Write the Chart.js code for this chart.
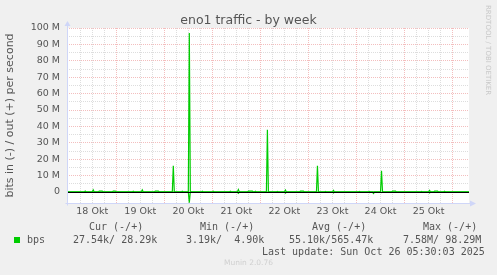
<!DOCTYPE html>
<html>
<head>
<meta charset="utf-8">
<script src="https://cdn.jsdelivr.net/npm/chart.js@4/dist/chart.umd.min.js"></script>
<style>
    body { margin: 0; background: #f0f0f0; }
    #wrap { position: relative; width: 497px; height: 275px; overflow: hidden; }
    #grafico { position: absolute; left: 0; top: 0; }
    .txt { position: absolute; white-space: pre; color: #555; }
    .mono { font: 10px/12px 'DejaVu Sans Mono', monospace; }
    #titulo { left: 0; top: 12px; width: 497px; text-align: center; font: 12.5px/15px 'DejaVu Sans', sans-serif; }
    #rrd { left: 484px; top: 5px; font: 7px/8px 'DejaVu Sans', sans-serif; color: #c8c8c8; writing-mode: vertical-rl; }
    #munin { left: 0; top: 258px; width: 497px; text-align: center; font: 7.5px/10px 'DejaVu Sans', sans-serif; color: #d0d0d0; }
    #quadrado { position: absolute; left: 14px; top: 237px; width: 6px; height: 6px; background: #00cc00; }
</style>
</head>
<body>
<div id="wrap">
    <canvas id="grafico" width="497" height="275"></canvas>
    <div class="txt" id="titulo">eno1 traffic - by week</div>
    <div class="txt" id="rrd">RRDTOOL / TOBI OETIKER</div>
    <div class="txt mono" style="left:89px;top:221px">Cur (-/+)</div>
    <div class="txt mono" style="left:200px;top:221px">Min (-/+)</div>
    <div class="txt mono" style="left:312px;top:221px">Avg (-/+)</div>
    <div class="txt mono" style="left:423px;top:221px">Max (-/+)</div>
    <div id="quadrado"></div>
    <div class="txt mono" style="left:27px;top:234px">bps</div>
    <div class="txt mono" style="left:73px;top:234px">27.54k/ 28.29k</div>
    <div class="txt mono" style="left:186px;top:234px">3.19k/  4.90k</div>
    <div class="txt mono" style="left:289px;top:234px">55.10k/565.47k</div>
    <div class="txt mono" style="left:403px;top:234px">7.58M/ 98.29M</div>
    <div class="txt mono" style="left:262px;top:246px">Last update: Sun Oct 26 05:30:03 2025</div>
    <div class="txt" id="munin">Munin 2.0.76</div>
</div>
<script>
// horas desde 18 Okt 00:00, valores em Mbit/s
const dias = ['18 Okt', '19 Okt', '20 Okt', '21 Okt', '22 Okt', '23 Okt', '24 Okt', '25 Okt'];

const horasOut = [-0.6, 8, 8.5, 9, 12, 12.5, 13, 15, 15.5, 17, 17.5, 22, 22.5, 23.5, 24,
    32, 32.5, 33, 36.5, 37, 37.5, 43, 43.5, 45, 45.5, 52, 52.5, 53, 56.5, 57, 57.5,
    60, 60.5, 61, 66.5, 67, 67.5, 72, 72.5, 73, 80.5, 81, 81.5, 84.5, 85, 85.5,
    89.5, 90, 92, 92.5, 93, 93.5, 94, 99, 99.5, 100, 104, 104.5, 105, 108, 108.5, 109,
    115.5, 116, 117.5, 118, 124, 124.5, 125, 128, 128.5, 129, 132, 132.5, 133,
    145, 145.5, 146, 150, 150.5, 151, 156, 156.5, 157, 161.5, 162, 163.5, 164,
    176, 176.5, 177, 180, 180.5, 181, 182.5, 183, 184.5, 185, 187.5, 188, 188.5, 200.2];
const valoresOut = [0.03, 0.03, 0.6, 0.03, 0.03, 1.3, 0.03, 0.03, 0.6, 0.6, 0.03, 0.03, 0.6, 0.6, 0.03,
    0.03, 0.5, 0.03, 0.03, 1.3, 0.03, 0.03, 0.6, 0.6, 0.03, 0.03, 16, 0.03, 0.03, 0.5, 0.03,
    0.03, 97, 0.03, 0.03, 0.5, 0.03, 0.03, 0.5, 0.03, 0.03, 0.5, 0.03, 0.03, 1.5, 0.03,
    0.03, 0.5, 0.5, 0.03, 0.03, 0.5, 0.03, 0.03, 38, 0.03, 0.03, 0.4, 0.03, 0.03, 1.2, 0.03,
    0.03, 0.5, 0.5, 0.03, 0.03, 16, 0.03, 0.03, 0.3, 0.03, 0.03, 1.0, 0.03,
    0.03, 0.4, 0.03, 0.03, 0.4, 0.03, 0.03, 13, 0.03, 0.03, 0.5, 0.5, 0.03,
    0.03, 0.3, 0.03, 0.03, 1.0, 0.03, 0.03, 0.5, 0.5, 0.03, 0.03, 0.5, 0.03, 0.03];

const horasIn = [-0.6, 60, 60.5, 61, 84.5, 85, 85.5, 108, 108.5, 109, 132, 132.5, 133,
    150, 150.5, 151, 152, 152.5, 153, 156, 156.5, 157, 180, 180.5, 181, 200.2];
const valoresIn = [-0.03, -0.03, -6.5, -0.03, -0.03, -0.8, -0.03, -0.03, -0.7, -0.03, -0.03, -0.6, -0.03,
    -0.03, -0.4, -0.03, -0.03, -0.9, -0.03, -0.03, -0.3, -0.03, -0.03, -0.6, -0.03, -0.03];

const COR_LINHA = '#00cc00';
const COR_EIXO = '#cfd6f8';
const GRADE_MAIOR = 'rgba(228, 110, 110, 0.45)';
const GRADE_MENOR = 'rgba(150, 150, 150, 0.32)';

function pontos(xs, ys) {
    return xs.map((x, i) => ({ x: x, y: ys[i] }));
}

function multiplo(v, passo) {
    return Math.abs(v / passo - Math.round(v / passo)) < 1e-6;
}

const eixosMunin = {
    id: 'eixosMunin',
    afterDatasetsDraw(chart) {
        const { ctx, chartArea: a, scales: { y } } = chart;
        const y0 = Math.round(y.getPixelForValue(0)) + 0.5;
        const l = Math.round(a.left) + 0.5;
        const b = Math.round(a.bottom) + 0.5;
        ctx.save();
        ctx.lineWidth = 1;
        ctx.strokeStyle = '#000';
        ctx.beginPath();
        ctx.moveTo(a.left, y0);
        ctx.lineTo(a.right, y0);
        ctx.stroke();

        ctx.strokeStyle = COR_EIXO;
        ctx.fillStyle = COR_EIXO;
        ctx.beginPath();
        ctx.moveTo(l, b + 2);
        ctx.lineTo(l, a.top - 3);
        ctx.moveTo(l - 2, b);
        ctx.lineTo(a.right + 2, b);
        ctx.stroke();

        ctx.beginPath();
        ctx.moveTo(l, a.top - 7);
        ctx.lineTo(l - 3, a.top - 2);
        ctx.lineTo(l + 3, a.top - 2);
        ctx.closePath();
        ctx.fill();

        ctx.beginPath();
        ctx.moveTo(a.right + 7, b);
        ctx.lineTo(a.right + 1, b - 3);
        ctx.lineTo(a.right + 1, b + 3);
        ctx.closePath();
        ctx.fill();
        ctx.restore();
    }
};

const fundoCanvas = {
    id: 'fundoCanvas',
    beforeDraw(chart) {
        const { ctx, chartArea: a } = chart;
        ctx.save();
        ctx.fillStyle = '#ffffff';
        ctx.fillRect(a.left, a.top, a.right - a.left, a.bottom - a.top);
        ctx.restore();
    }
};

const fonteEixo = { family: 'DejaVu Sans', size: 9.5 };

new Chart(document.getElementById('grafico').getContext('2d'), {
    type: 'line',
    data: {
        datasets: [
            { label: 'out', data: pontos(horasOut, valoresOut), borderColor: COR_LINHA, borderWidth: 1.2, pointRadius: 0, tension: 0, fill: false },
            { label: 'in', data: pontos(horasIn, valoresIn), borderColor: COR_LINHA, borderWidth: 1.2, pointRadius: 0, tension: 0, fill: false }
        ]
    },
    options: {
        responsive: false,
        animation: false,
        events: [],
        layout: { padding: { left: 0, top: 28, right: 28, bottom: 0 } },
        plugins: { legend: { display: false }, title: { display: false }, tooltip: { enabled: false } },
        scales: {
            x: {
                type: 'linear',
                min: -0.6,
                max: 200.2,
                afterBuildTicks: s => { s.ticks = s.ticks.filter(t => multiplo(t.value, 6)); },
                afterFit: s => { s.height = 72; },
                ticks: {
                    stepSize: 6,
                    autoSkip: false,
                    maxRotation: 0,
                    minRotation: 0,
                    padding: 3,
                    color: '#555',
                    font: fonteEixo,
                    callback: v => (multiplo(v - 12, 24) ? (dias[Math.floor(v / 24)] || '') : '')
                },
                grid: {
                    drawTicks: false,
                    color: c => (c.tick && multiplo(c.tick.value, 24) ? GRADE_MAIOR : GRADE_MENOR)
                },
                border: { display: false, dash: [1, 1] }
            },
            y: {
                min: -6.7,
                max: 100,
                afterBuildTicks: s => { s.ticks = s.ticks.filter(t => multiplo(t.value, 5)); },
                afterFit: s => { s.width = 67; },
                title: {
                    display: true,
                    text: 'bits in (-) / out (+) per second',
                    color: '#555',
                    font: { family: 'DejaVu Sans', size: 11 },
                    padding: { top: 4, bottom: 0 }
                },
                ticks: {
                    stepSize: 5,
                    autoSkip: false,
                    padding: 7,
                    color: '#555',
                    font: fonteEixo,
                    callback: v => (v === 0 ? '0' : (v > 0 && multiplo(v, 10) ? v + ' M' : ''))
                },
                grid: {
                    drawTicks: false,
                    color: c => (c.tick && multiplo(c.tick.value, 10) ? GRADE_MAIOR : GRADE_MENOR)
                },
                border: { display: false, dash: [1, 1] }
            }
        }
    },
    plugins: [fundoCanvas, eixosMunin]
});
</script>
</body>
</html>
